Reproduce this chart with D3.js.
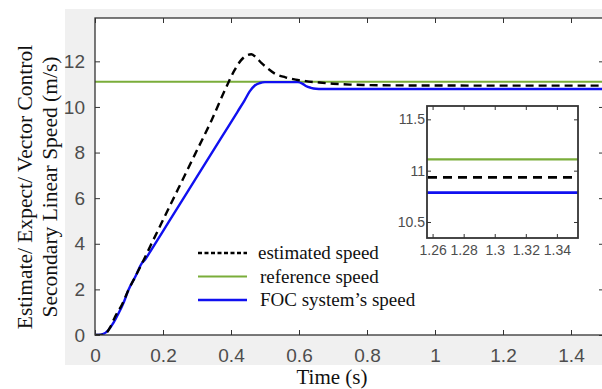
<!DOCTYPE html>
<html>
<head>
<meta charset="utf-8">
<script src="https://cdn.jsdelivr.net/npm/d3@7"></script>
<style>
  body { margin: 0; background: #fff; }
  svg { display: block; }
</style>
</head>
<body>
<script>
// --- Data ---
const estTime  = [0, 0.015, 0.03, 0.045, 0.059, 0.08, 0.098, 0.12, 0.137, 0.166, 0.196, 0.245, 0.294, 0.343, 0.387, 0.41, 0.428, 0.445, 0.46, 0.475, 0.49, 0.509, 0.53, 0.56, 0.59, 0.62, 0.66, 0.7, 0.75, 0.8, 0.9, 1.0, 1.2, 1.5];
const estSpeed = [0, 0, 0.05, 0.35, 0.8, 1.35, 1.96, 2.6, 3.1, 4.0, 4.92, 6.42, 7.92, 9.42, 10.9, 11.6, 12.02, 12.25, 12.31, 12.15, 11.92, 11.68, 11.45, 11.3, 11.2, 11.13, 11.07, 11.02, 10.98, 10.96, 10.945, 10.94, 10.935, 10.934];
const focTime  = [0, 0.01, 0.025, 0.039, 0.055, 0.069, 0.085, 0.098, 0.12, 0.137, 0.147, 0.16, 0.196, 0.25, 0.294, 0.35, 0.392, 0.42, 0.44, 0.455, 0.47, 0.485, 0.5, 0.597, 0.61, 0.62, 0.635, 0.65, 0.67, 0.7, 1.5];
const focSpeed = [0, 0, 0.05, 0.21, 0.55, 0.94, 1.45, 1.96, 2.6, 3.13, 3.3, 3.6, 4.46, 5.75, 6.8, 8.14, 9.14, 9.81, 10.29, 10.68, 10.94, 11.05, 11.09, 11.09, 11.02, 10.92, 10.84, 10.8, 10.79, 10.787, 10.787];
const refTime  = [0, 1.5];
const refSpeed = [11.11, 11.11];

const xTicks = [0, 0.2, 0.4, 0.6, 0.8, 1, 1.2, 1.4];
const yTicks = [0, 2, 4, 6, 8, 10, 12];
const insetXTicks = [1.26, 1.28, 1.3, 1.32, 1.34];
const insetYTicks = [10.5, 11, 11.5];
const legendLabels = ["estimated speed", "reference speed", "FOC system\u2019s speed"];

// --- Layout ---
const W = 602, H = 389;
const M = { left: 95, top: 18, right: 605, bottom: 335 };
const INSET = { left: 427, top: 106, right: 578, bottom: 238 };
const GREEN = "#7aad3a", BLUE = "#1010f0";

const series = [
  { name: legendLabels[0], t: estTime, v: estSpeed, color: "#000", width: 2.4, dash: "8,5", insetDash: "9,6", legendDash: "4,2.5" },
  { name: legendLabels[1], t: refTime, v: refSpeed, color: GREEN, width: 2, dash: null, insetDash: null, legendDash: null },
  { name: legendLabels[2], t: focTime, v: focSpeed, color: BLUE, width: 2.4, dash: null, insetDash: null, legendDash: null },
];
// drawing order: reference under, blue, dashed on top
const drawOrder = [1, 2, 0];

const svg = d3.select("body").append("svg")
  .attr("width", W).attr("height", H);

// Grey figure background
svg.append("rect")
  .attr("x", 65).attr("y", 9)
  .attr("width", W - 65).attr("height", 365 - 9)
  .attr("fill", "#f0f0f0");

// Plot area
svg.append("rect")
  .attr("x", M.left).attr("y", M.top)
  .attr("width", M.right - M.left).attr("height", M.bottom - M.top)
  .attr("fill", "#fff");

const x = d3.scaleLinear().domain([0, 1.5]).range([M.left, M.right]);
const y = d3.scaleLinear().domain([0, 13.9]).range([M.bottom, M.top]);

const defs = svg.append("defs");
defs.append("clipPath").attr("id", "clipMain").append("rect")
  .attr("x", M.left).attr("y", M.top)
  .attr("width", M.right - M.left).attr("height", M.bottom - M.top);
defs.append("clipPath").attr("id", "clipInset").append("rect")
  .attr("x", INSET.left).attr("y", INSET.top)
  .attr("width", INSET.right - INSET.left).attr("height", INSET.bottom - INSET.top);

function lineFor(xs, ys) {
  return d3.line().curve(d3.curveMonotoneX).x(i => xs(i.t)).y(i => ys(i.v));
}
function points(s) { return s.t.map((t, i) => ({ t, v: s.v[i] })); }

// --- Main lines ---
const gLines = svg.append("g").attr("clip-path", "url(#clipMain)");
drawOrder.forEach(k => {
  const s = series[k];
  gLines.append("path")
    .attr("d", lineFor(x, y)(points(s)))
    .attr("fill", "none")
    .attr("stroke", s.color)
    .attr("stroke-width", s.width)
    .attr("stroke-dasharray", s.dash);
});

// --- Main axes (ticks inward, box) ---
const tickFont = "'Liberation Sans', Arial, sans-serif";
function styleAxis(g, size) {
  g.select(".domain").remove();
  g.selectAll(".tick line").attr("stroke", "#333").attr("stroke-width", 1);
  g.selectAll("text").attr("fill", "#4d4d4d")
    .attr("font-family", tickFont).attr("font-size", size);
}

svg.append("g").attr("transform", `translate(0,${M.bottom})`)
  .call(d3.axisBottom(x).tickValues(xTicks).tickFormat(d3.format("~g")).tickSizeInner(-5).tickSizeOuter(0).tickPadding(14))
  .call(g => styleAxis(g, 19));
svg.append("g").attr("transform", `translate(0,${M.top})`)
  .call(d3.axisTop(x).tickValues(xTicks).tickFormat("").tickSizeInner(-5).tickSizeOuter(0))
  .call(g => styleAxis(g, 19));
svg.append("g").attr("transform", `translate(${M.left},0)`)
  .call(d3.axisLeft(y).tickValues(yTicks).tickSizeInner(-5).tickSizeOuter(0).tickPadding(10))
  .call(g => styleAxis(g, 19));
svg.append("g").attr("transform", `translate(${M.right - 1},0)`)
  .call(d3.axisRight(y).tickValues(yTicks).tickFormat("").tickSizeInner(-5).tickSizeOuter(0))
  .call(g => styleAxis(g, 19));

svg.append("rect")
  .attr("x", M.left).attr("y", M.top)
  .attr("width", M.right - M.left - 1).attr("height", M.bottom - M.top)
  .attr("fill", "none").attr("stroke", "#333").attr("stroke-width", 1.3);

// --- Axis titles ---
const serif = "'Liberation Serif', 'Times New Roman', serif";
svg.append("text")
  .attr("x", 332).attr("y", 384)
  .attr("text-anchor", "middle")
  .attr("font-family", serif).attr("font-size", 21).attr("fill", "#111")
  .text("Time (s)");

const yTitle = svg.append("text")
  .attr("transform", "translate(0,187) rotate(-90)")
  .attr("text-anchor", "middle")
  .attr("font-family", serif).attr("font-size", 21.5).attr("fill", "#111");
yTitle.append("tspan").attr("x", 0).attr("y", 32).text("Estimate/ Expect/ Vector Control");
yTitle.append("tspan").attr("x", 0).attr("y", 57).text("Secondary Linear Speed (m/s)");

// --- Legend ---
const legend = svg.append("g");
series.forEach((s, i) => {
  const ly = 253 + i * 23.5;
  legend.append("line")
    .attr("x1", 198).attr("x2", 247).attr("y1", ly).attr("y2", ly)
    .attr("stroke", s.color).attr("stroke-width", s.width)
    .attr("stroke-dasharray", s.legendDash);
  legend.append("text")
    .attr("x", i === 0 ? 258 : 260).attr("y", ly + 6)
    .attr("font-family", serif).attr("font-size", 19).attr("fill", "#111")
    .text(s.name);
});

// --- Inset ---
const xi = d3.scaleLinear().domain([1.2564, 1.3536]).range([INSET.left, INSET.right]);
const yi = d3.scaleLinear().domain([10.344, 11.63]).range([INSET.bottom, INSET.top]);

svg.append("rect")
  .attr("x", INSET.left).attr("y", INSET.top)
  .attr("width", INSET.right - INSET.left).attr("height", INSET.bottom - INSET.top)
  .attr("fill", "#fff");

const gInset = svg.append("g").attr("clip-path", "url(#clipInset)");
drawOrder.forEach(k => {
  const s = series[k];
  gInset.append("path")
    .attr("d", lineFor(xi, yi)(points(s)))
    .attr("fill", "none")
    .attr("stroke", s.color)
    .attr("stroke-width", s.width + 0.4)
    .attr("stroke-dasharray", s.insetDash);
});

svg.append("g").attr("transform", `translate(0,${INSET.bottom})`)
  .call(d3.axisBottom(xi).tickValues(insetXTicks).tickFormat(d3.format("~g")).tickSizeInner(-4).tickSizeOuter(0).tickPadding(7))
  .call(g => styleAxis(g, 14));
svg.append("g").attr("transform", `translate(0,${INSET.top})`)
  .call(d3.axisTop(xi).tickValues(insetXTicks).tickFormat("").tickSizeInner(-4).tickSizeOuter(0))
  .call(g => styleAxis(g, 14));
svg.append("g").attr("transform", `translate(${INSET.left},0)`)
  .call(d3.axisLeft(yi).tickValues(insetYTicks).tickFormat(d3.format("~g")).tickSizeInner(-4).tickSizeOuter(0).tickPadding(2))
  .call(g => styleAxis(g, 14));
svg.append("g").attr("transform", `translate(${INSET.right},0)`)
  .call(d3.axisRight(yi).tickValues(insetYTicks).tickFormat("").tickSizeInner(-4).tickSizeOuter(0))
  .call(g => styleAxis(g, 14));

svg.append("rect")
  .attr("x", INSET.left).attr("y", INSET.top)
  .attr("width", INSET.right - INSET.left).attr("height", INSET.bottom - INSET.top)
  .attr("fill", "none").attr("stroke", "#333").attr("stroke-width", 1.8);
</script>
</body>
</html>
